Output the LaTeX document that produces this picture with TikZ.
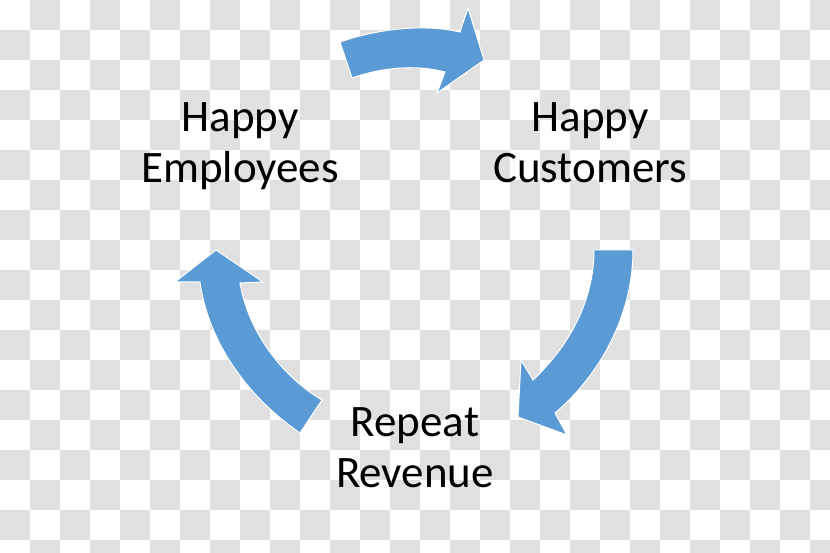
\documentclass[tikz,border=0pt]{standalone}
\usepackage{fontspec}
\setmainfont{Carlito}
\usepackage{tikz}
\definecolor{arrowblue}{RGB}{91,155,213}
\definecolor{checkgray}{RGB}{224,224,224}

\begin{document}
\begin{tikzpicture}[x=1pt, y=-1pt,
        bigarrow/.style={fill=arrowblue, draw=white, line width=1pt, line join=miter},
        label/.style={align=center, inner sep=0pt, anchor=base, font=\fontsize{45}{51}\selectfont}]  % 1pt 对应一个像素, y 轴向下
            \useasboundingbox (0, 0) rectangle (830, 553);
            % 背景的棋盘格, 每格 30
            \fill[white] (0, 0) rectangle (830, 553);
            \foreach \i in {0,...,27}
                \foreach \j in {0,...,18}{
                    \pgfmathtruncatemacro{\k}{\i+\j}
                    \ifodd\k
                        \fill[checkgray] (30*\i, 30*\j) rectangle ++(30, 30);
                    \fi
                }
            \clip (0, 0) rectangle (830, 553);

            % 上边的箭头
            \draw[bigarrow] (352, 78) .. controls (380, 68) and (415, 64) .. (445, 72)
                -- (437, 93) -- (484, 60) -- (468, 8) -- (460, 32)
                .. controls (425, 24) and (380, 28) .. (340, 42) -- cycle;
            % 右边的箭头
            \draw[bigarrow] (594, 250) -- (633, 250) .. controls (633, 315) and (600, 375) .. (555, 413)
                -- (567, 435) -- (518, 417) -- (521, 360) -- (533, 380)
                .. controls (570, 345) and (594, 300) .. (594, 250) -- cycle;
            % 左边的箭头
            \draw[bigarrow] (216, 250) -- (263, 282) -- (240, 283)
                .. controls (248, 330) and (280, 375) .. (322, 400) -- (300, 433)
                .. controls (245, 395) and (208, 340) .. (200, 282) -- (175, 282) -- cycle;

            % 文字结点, base 是最后一行的基线
            \node[label] (employees) at (240, 183) {Happy\\Employees};
            \node[label] (customers) at (590, 183) {Happy\\Customers};
            \node[label] (revenue) at (415, 487) {Repeat\\Revenue};
        \end{tikzpicture}
\end{document}
